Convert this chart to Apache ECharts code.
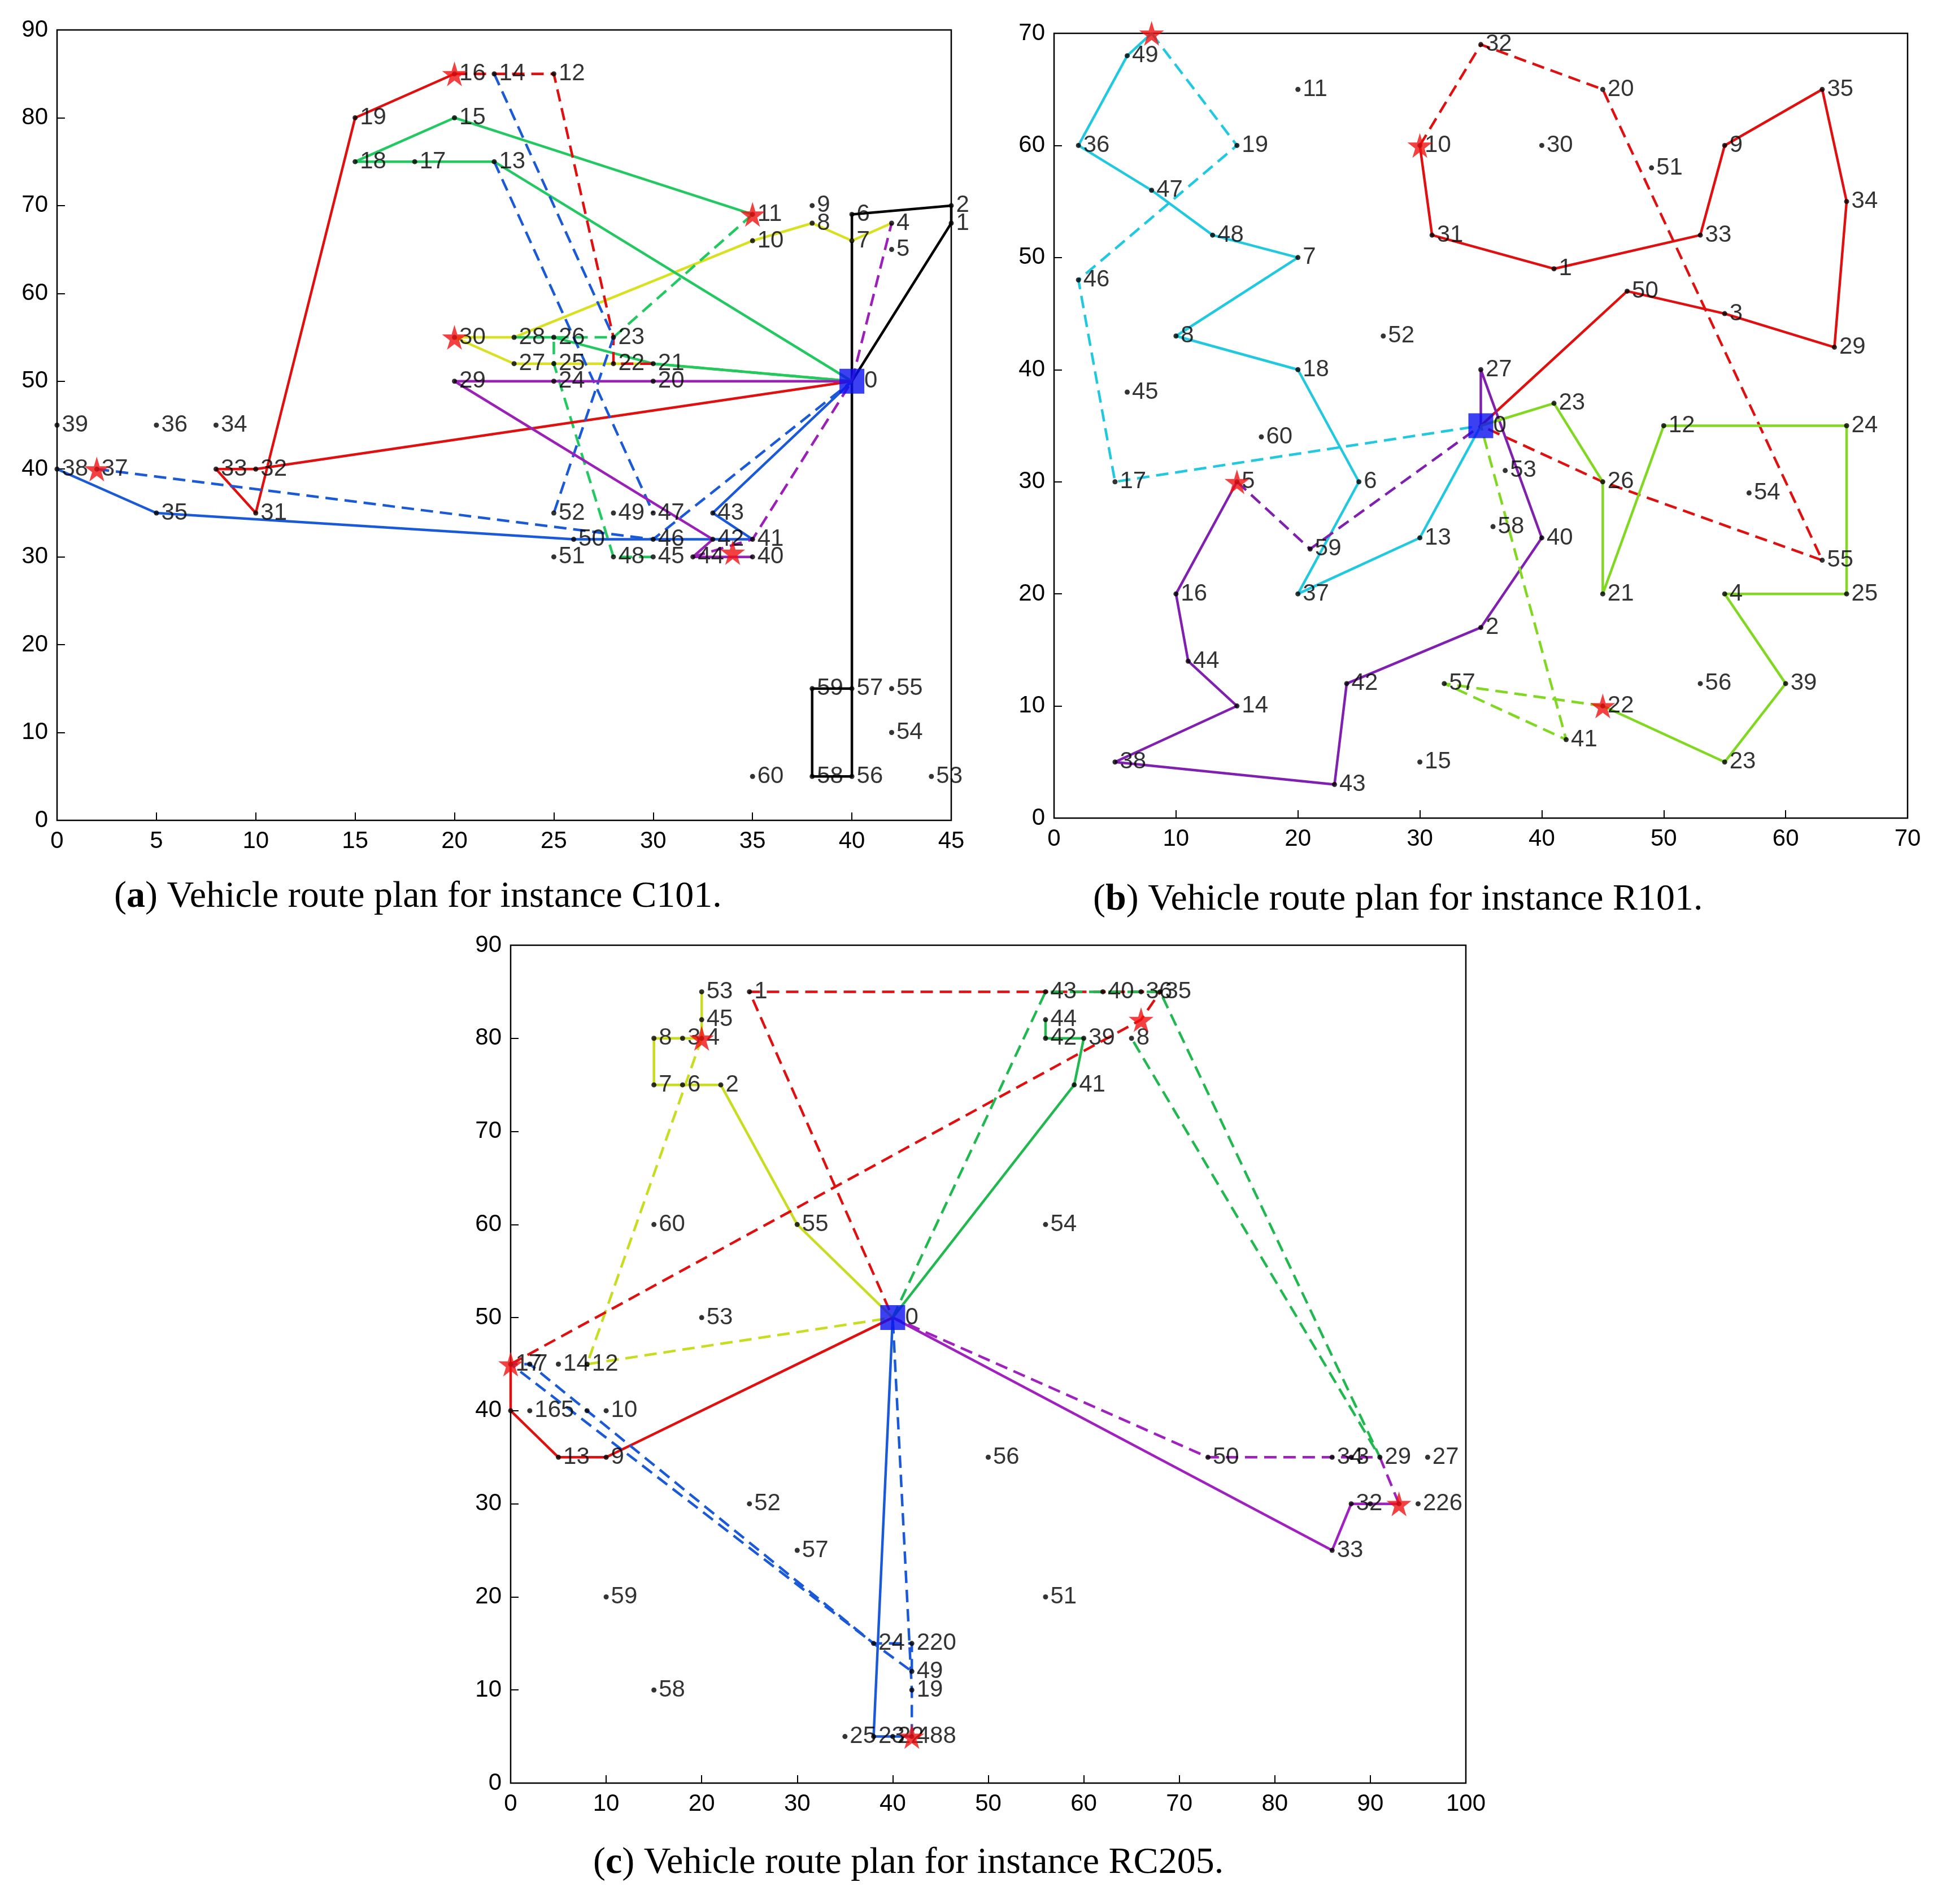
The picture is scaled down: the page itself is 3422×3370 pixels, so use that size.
<!DOCTYPE html>
<html><head><meta charset="utf-8">
<script src="https://cdn.jsdelivr.net/npm/echarts@6/dist/echarts.min.js"></script>
<style>html,body{margin:0;background:#fff}#c{width:3422px;height:3370px}</style>
</head><body><div id="c"></div>
<script>
// ---- Panel A (C101): [key, x, y, label]
const ptsA = [
['1',45,68],['2',45,70],['4',42,68],['5',42,65],['6',40,69],['7',40,66],['8',38,68],['9',38,70],['10',35,66],['11',35,69],
['12',25,85],['13',22,75],['14',22,85],['15',20,80],['16',20,85],['17',18,75],['18',15,75],['19',15,80],['20',30,50],
['21',30,52],['22',28,52],['23',28,55],['24',25,50],['25',25,52],['26',25,55],['27',23,52],['28',23,55],['29',20,50],
['30',20,55],['31',10,35],['32',10,40],['33',8,40],['34',8,45],['35',5,35],['36',5,45],['37',2,40],['38',0,40],['39',0,45],
['40',35,30],['41',35,32],['42',33,32],['43',33,35],['44',32,30],['45',30,30],['46',30,32],['47',30,35],['48',28,30],
['49',28,35],['50',26,32],['51',25,30],['52',25,35],['53',44,5],['54',42,10],['55',42,15],['56',40,5],['57',40,15],
['58',38,5],['59',38,15],['60',35,5]
];
const depotA = [40,50];
const starsA = [[20,85],[35,69],[20,55],[2,40],[34,30.5]];
const routesA = [
['#000000',false,['0','7','6','2','1','0']],
['#000000',false,['0','56','58','59','57','0']],
['#d8e020',false,['4','7','8','10','28','30','27','22','21','0']],
['#22c860',false,['0','13','17','18','15','11']],
['#22c860',false,['28','26','21','0']],
['#22c860',true,['11','23','26','25','48','45']],
['#22c860',true,['21','0']],
['#e01010',false,['0','32','33','31','19','16']],
['#e01010',true,['16','14','12','23','22','21']],
['#1a5ad8',false,['0','43','41','42','46','50','35','38']],
['#1a5ad8',true,['37','46','0']],
['#1a5ad8',true,['14','23','52']],
['#1a5ad8',true,['13','47']],
['#9a20b8',false,['0','20','24','29','42','44','40']],
['#9a20b8',true,['44','41','0','4']]
];
// ---- Panel B (R101)
const ptsB = [
['1',41,49],['2',35,17],['3',55,45],['4',55,20],['5',15,30],['6',25,30],['7',20,50],['8',10,43],['9',55,60],['10',30,60],
['11',20,65],['12',50,35],['13',30,25],['14',15,10],['15',30,5],['16',10,20],['17',5,30],['18',20,40],['19',15,60],
['20',45,65],['21',45,20],['22',45,10],['23',55,5],['24',65,35],['25',65,20],['26',45,30],['27',35,40],['28',41,37,'23'],
['29',64,42],['30',40,60],['31',31,52],['32',35,69],['33',53,52],['34',65,55],['35',63,65],['36',2,60],['37',20,20],
['38',5,5],['39',60,12],['40',40,25],['41',42,7],['42',24,12],['43',23,3],['44',11,14],['45',6,38],['46',2,48],
['47',8,56],['48',13,52],['49',6,68],['50',47,47],['51',49,58],['52',27,43],['53',37,31],['54',57,29],['55',63,23],
['56',53,12],['57',32,12],['58',36,26],['59',21,24],['60',17,34]
];
const depotB = [35,35];
const starsB = [[8,70],[30,60],[15,30],[45,10]];
const routesB = [
['#20c8e0',false,['0','13','37','6','18','8','7','48','47','36','49','S0']],
['#20c8e0',true,['S0','19','46','17','0']],
['#e01010',false,['0','50','3','29','34','35','9','33','1','31','10']],
['#e01010',true,['10','32','20','55','26','0']],
['#8020b0',false,['0','27','40','2','42','43','38','14','44','16','5']],
['#8020b0',true,['5','59','0']],
['#80d820',false,['0','28','26','21','12','24','25','4','39','23','22']],
['#80d820',true,['22','57','41','0']]
];
// ---- Panel C (RC205)
const ptsC = [
['53t',20,85,'53'],['1',25,85,'1'],['45',20,82,'45'],['8',15,80,'8'],['3',18,80,'3'],['4',20,80,'4'],['7',15,75,'7'],
['6',18,75,'6'],['2',22,75,'2'],['60',15,60,'60'],['55',30,60,'55'],['53',20,50,'53'],['17',0,45,'17'],['47',2,45,'7'],
['14',5,45,'14'],['12',8,45,'12'],['16',0,40,''],['15',2,40,'165'],['11',8,40,''],['10',10,40,'10'],['13',5,35,'13'],
['9',10,35,'9'],['52',25,30,'52'],['57',30,25,'57'],['59',10,20,'59'],['58',15,10,'58'],['24',38,15,'24'],['20',42,15,'220'],
['49',42,12,'49'],['19',42,10,'19'],['25',35,5,'25'],['23',38,5,'23'],['22',40,5,'22'],['18',42,5,'488'],
['43',56,85,'43'],['40',62,85,'40'],['36',66,85,'36'],['35',68,85,'35'],['44',56,82,'44'],['42',56,80,'42'],['39',60,80,'39'],
['38',65,80,'8'],['41',59,75,'41'],['54',56,60,'54'],['56',50,35,'56'],['51',56,20,'51'],['50',73,35,'50'],['34',86,35,'34'],
['31',88,35,'3'],['29',91,35,'29'],['27',96,35,'27'],['32',88,30,'32'],['30',90,30,''],['28',93,30,''],['26',95,30,'226'],['33',86,25,'33']
];
const depotC = [40,50];
const starsC = [[20,80],[0,45],[66,82],[93,30],[42,5]];
const routesC = [
['#c8dc20',false,['0','55','2','6','7','8','4','45','53t']],
['#c8dc20',true,['S0','12','0']],
['#e01010',false,['0','9','13','16','S1']],
['#e01010',true,['S1','S2','35','36','40','43','1','0']],
['#22b850',false,['0','41','39','42','44']],
['#22b850',true,['0','43','40','36','35','29','38']],
['#a020c0',false,['0','33','32','28','S3']],
['#a020c0',true,['S3','29','34','50','0']],
['#1a5ad8',false,['0','23','S4']],
['#1a5ad8',true,['S4','19','0']],
['#1a5ad8',true,['49','20','24','S1','47','24','49']]
];

function build(idx, pts, depot, stars, routes){
  const map = {'0':depot};
  pts.forEach(p=>{map[p[0]]=[p[1],p[2]];});
  stars.forEach((s,i)=>{map['S'+i]=s;});
  const series=[];
  routes.forEach(r=>{
    series.push({type:'line',xAxisIndex:idx,yAxisIndex:idx,data:r[2].map(k=>map[k]),symbol:'none',silent:true,
      lineStyle:{color:r[0],width:4.5,type:r[1]?[22,12]:'solid'},z:2});
  });
  series.push({type:'scatter',xAxisIndex:idx,yAxisIndex:idx,symbolSize:9,itemStyle:{color:'#000'},z:3,
    data:pts.map(p=>({value:[p[1],p[2]],lab:p.length>3?p[3]:p[0]})),
    label:{show:true,position:'right',distance:4,formatter:d=>d.data.lab,fontSize:42,color:'#000',fontFamily:'Liberation Sans'}});
  series.push({type:'scatter',xAxisIndex:idx,yAxisIndex:idx,symbolSize:44,symbol:'rect',itemStyle:{color:'#0a10f0'},z:4,
    data:[depot],label:{show:true,position:'right',distance:0,formatter:'0',fontSize:42,color:'#000'}});
  series.push({type:'scatter',xAxisIndex:idx,yAxisIndex:idx,symbolSize:44,
    symbol:'path://M50,0 L61,35 L98,35 L68,57 L79,91 L50,70 L21,91 L32,57 L2,35 L39,35 Z',itemStyle:{color:'#f01010'},z:5,data:stars});
  return series;
}
const grids=[
 {left:101,top:53,width:1583,height:1399},
 {left:1866,top:59,width:1511,height:1389},
 {left:904,top:1673,width:1691,height:1483}
];
const ranges=[[0,45,5,0,90,10],[0,70,10,0,70,10],[0,100,10,0,90,10]];
const ax = (min,max,iv)=>({min,max,interval:iv,axisLine:{show:false},axisTick:{inside:true,length:14,lineStyle:{color:'#000',width:2}},
  axisLabel:{fontSize:42,color:'#000',margin:16,fontFamily:'Liberation Sans'},splitLine:{show:false}});
const option={
 animation:false,backgroundColor:'#fff',
 grid:grids.map(g=>Object.assign({show:true,borderColor:'#000',borderWidth:2.5,backgroundColor:'transparent'},g)),
 xAxis:ranges.map((r,i)=>Object.assign(ax(r[0],r[1],r[2]),{gridIndex:i})),
 yAxis:ranges.map((r,i)=>Object.assign(ax(r[3],r[4],r[5]),{gridIndex:i})),
 series:[].concat(build(0,ptsA,depotA,starsA,routesA),build(1,ptsB,depotB,starsB,routesB),build(2,ptsC,depotC,starsC,routesC)),
 graphic:[
  {type:'text',left:202,top:1555,style:{rich:{b:{fontWeight:'bold',fontSize:66,fontFamily:'Liberation Serif'},n:{fontSize:66,fontFamily:'Liberation Serif'}},text:'{n|(}{b|a}{n|) Vehicle route plan for instance C101.}',fill:'#000'}},
  {type:'text',left:1935,top:1560,style:{rich:{b:{fontWeight:'bold',fontSize:66,fontFamily:'Liberation Serif'},n:{fontSize:66,fontFamily:'Liberation Serif'}},text:'{n|(}{b|b}{n|) Vehicle route plan for instance R101.}',fill:'#000'}},
  {type:'text',left:1050,top:3265,style:{rich:{b:{fontWeight:'bold',fontSize:66,fontFamily:'Liberation Serif'},n:{fontSize:66,fontFamily:'Liberation Serif'}},text:'{n|(}{b|c}{n|) Vehicle route plan for instance RC205.}',fill:'#000'}}
 ]
};
echarts.init(document.getElementById('c')).setOption(option);
</script></body></html>
